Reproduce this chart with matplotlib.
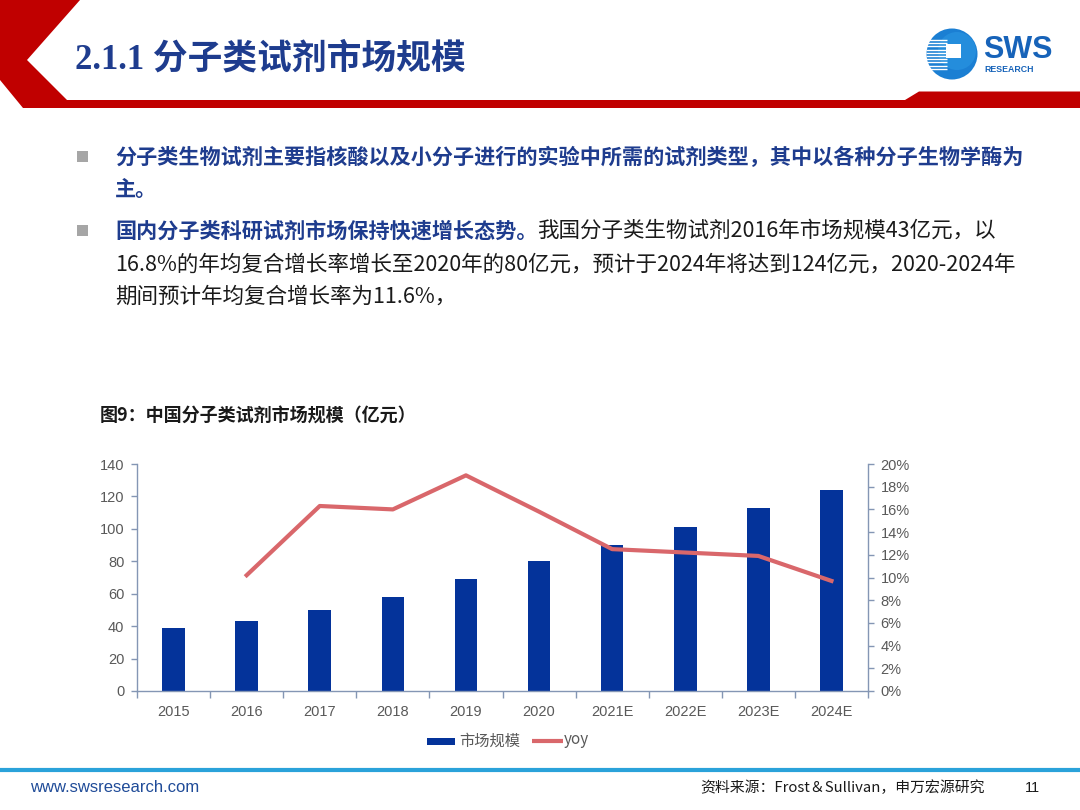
import numpy as np
import matplotlib
matplotlib.use("Agg")
import matplotlib.pyplot as plt
from matplotlib.patches import Polygon, Rectangle, Circle
from matplotlib.ticker import FuncFormatter

# ---------------- data ----------------
years = ["2015", "2016", "2017", "2018", "2019", "2020", "2021E", "2022E", "2023E", "2024E"]
market_size = [39, 43, 50, 58, 69, 80, 90, 101, 113, 124]
yoy = [np.nan, 10.2, 16.3, 16.0, 19.0, 15.8, 12.5, 12.2, 11.9, 9.7]
left_ticks = [0, 20, 40, 60, 80, 100, 120, 140]
right_ticks = [0, 2, 4, 6, 8, 10, 12, 14, 16, 18, 20]

title_text = "2.1.1 分子类试剂市场规模"
bullet1_lines = ["分子类生物试剂主要指核酸以及小分子进行的实验中所需的试剂类型，其中以各种分子生物学酶为", "主。"]
bullet2_bold = "国内分子类科研试剂市场保持快速增长态势。"
bullet2_rest = "我国分子类生物试剂2016年市场规模43亿元，以"
bullet2_lines = ["16.8%的年均复合增长率增长至2020年的80亿元，预计于2024年将达到124亿元，2020-2024年",
                 "期间预计年均复合增长率为11.6%，"]
chart_title = "图9：中国分子类试剂市场规模（亿元）"
legend_labels = ["市场规模", "yoy"]
source_text = "资料来源：Frost＆Sullivan，申万宏源研究"
site_text = "www.swsresearch.com"
page_no = "11"

# ---------------- styles ----------------
plt.rcParams['font.family'] = ['Noto Sans CJK SC', 'DejaVu Sans']
CJK = ['Noto Sans CJK SC', 'DejaVu Sans']
LAT = ['Liberation Sans', 'Noto Sans CJK SC']
BAR_C = '#04339A'
LINE_C = '#D9676B'
AX_C = '#8496B4'
TICK_TXT = '#595959'
RED = '#C00000'
BLUE_T = '#1E3C8E'

W, H = 1080, 810
fig = plt.figure(figsize=(10.8, 8.1), dpi=100)
fig.patch.set_facecolor('white')

bg = fig.add_axes([0, 0, 1, 1])
bg.set_xlim(0, W)
bg.set_ylim(H, 0)
bg.axis('off')

# header red shape
bg.add_patch(Polygon([(0, 0), (80, 0), (27, 60), (67, 100), (905, 100), (919, 91.5),
                      (W, 91.5), (W, 108), (23, 108), (0, 80)],
                     closed=True, facecolor=RED, edgecolor='none'))

bg.text(75, 60, title_text, fontsize=25, fontweight='bold', color=BLUE_T,
        family=['Liberation Serif', 'Noto Sans CJK SC'], va='center', ha='left')

# logo
bg.add_patch(Circle((952, 54), 25.5, facecolor='#1B7FD3', edgecolor='none'))
bg.add_patch(Circle((957, 51), 19, facecolor='#2E9BE6', edgecolor='none', alpha=0.5))
for yy in np.arange(40, 70, 3.2):
    bg.plot([926, 947], [yy, yy], color='white', lw=1.0, solid_capstyle='butt')
bg.add_patch(Rectangle((946, 44), 15, 14, facecolor='white', edgecolor='none'))
bg.text(983, 58, "SWS", fontsize=22, fontweight='bold', color='#1763B9',
        family=['Liberation Sans'], va='baseline', ha='left')
bg.text(984, 70, "RESEARCH", fontsize=6.3, fontweight='bold', color='#1763B9',
        family=['Liberation Sans'], va='center', ha='left')

# bullets
for by in [156, 230]:
    bg.add_patch(Rectangle((77, by - 5.5), 11, 11, facecolor='#A6A6A6', edgecolor='none'))

FS = 15.2
bg.text(115, 157, bullet1_lines[0], fontsize=FS, fontweight='bold', color=BLUE_T,
        va='center', ha='left', family=CJK)
bg.text(115, 190, bullet1_lines[1], fontsize=FS, fontweight='bold', color=BLUE_T,
        va='center', ha='left', family=CJK)
tb = bg.text(115, 231, bullet2_bold, fontsize=FS, fontweight='bold', color=BLUE_T,
             va='center', ha='left', family=CJK)
fig.canvas.draw()
r = fig.canvas.get_renderer()
bb = tb.get_window_extent(r)
x_end = bg.transData.inverted().transform((bb.x1, bb.y0))[0]
bg.text(x_end, 231, bullet2_rest, fontsize=15.5, color='#1A1A1A',
        va='center', ha='left', family=CJK)
bg.text(115, 265, bullet2_lines[0], fontsize=15.5, color='#1A1A1A',
        va='center', ha='left', family=CJK)
bg.text(115, 297, bullet2_lines[1], fontsize=15.5, color='#1A1A1A',
        va='center', ha='left', family=CJK)

# chart title
bg.text(100, 416, chart_title, fontsize=13, fontweight='bold', color='#1A1A1A',
        va='center', ha='left', family=CJK)

# legend
bg.add_patch(Rectangle((427, 738), 28, 6.5, facecolor=BAR_C, edgecolor='none'))
bg.text(459, 741, legend_labels[0], fontsize=11, color=TICK_TXT, va='center', ha='left', family=CJK)
bg.plot([532, 563], [741, 741], color=LINE_C, lw=3, solid_capstyle='butt')
bg.text(564, 740, legend_labels[1], fontsize=11, color=TICK_TXT, va='center', ha='left', family=CJK)

# footer
bg.plot([0, W], [770, 770], color='#2AA2DA', lw=3)
bg.text(30, 788, site_text, fontsize=12, color='#1F4B98', va='center', ha='left', family=LAT)
bg.text(700, 788, source_text, fontsize=10.7, color='#1A1A1A', va='center', ha='left', family=CJK)
bg.text(1025, 788, page_no, fontsize=10.5, color='#1A1A1A', va='center', ha='left', family=LAT)

# ---------------- chart ----------------
x0, x1, yb, yt = 137, 868, 691, 464
ax = fig.add_axes([x0 / W, 1 - yb / H, (x1 - x0) / W, (yb - yt) / H])
x = np.arange(len(years))
ax.bar(x, market_size, width=0.31, color=BAR_C, zorder=2)
ax.set_xlim(-0.5, len(years) - 0.5)
ax.set_ylim(0, 140)
ax.set_yticks(left_ticks)
ax.set_xticks(x)
ax.set_xticklabels(years)
ax.set_xticks(np.arange(-0.5, len(years)), minor=True)
ax.tick_params(axis='x', which='major', length=0, pad=10, labelsize=10.5, labelcolor=TICK_TXT)
ax.tick_params(axis='x', which='minor', length=5, width=1, color=AX_C, direction='out')
ax.tick_params(axis='y', length=4, width=1, color=AX_C, direction='out', labelsize=10.5,
               labelcolor=TICK_TXT, pad=5)
for lab in ax.get_xticklabels() + ax.get_yticklabels():
    lab.set_family(LAT)
for s in ['top', 'right']:
    ax.spines[s].set_visible(False)
for s in ['left', 'bottom']:
    ax.spines[s].set_color(AX_C)
    ax.spines[s].set_linewidth(1)

ax2 = ax.twinx()
ax2.plot(x, yoy, color=LINE_C, lw=3, solid_joinstyle='round', zorder=3)
ax2.set_ylim(0, 20)
ax2.set_yticks(right_ticks)
ax2.yaxis.set_major_formatter(FuncFormatter(lambda v, p: f"{int(v)}%"))
ax2.tick_params(axis='y', length=4, width=1, color=AX_C, direction='out', labelsize=10.5,
                labelcolor=TICK_TXT, pad=5)
for lab in ax2.get_yticklabels():
    lab.set_family(LAT)
for s in ['top', 'left', 'bottom']:
    ax2.spines[s].set_visible(False)
ax2.spines['right'].set_color(AX_C)
ax2.spines['right'].set_linewidth(1)

fig.savefig("out.png", dpi=100, facecolor='white')
